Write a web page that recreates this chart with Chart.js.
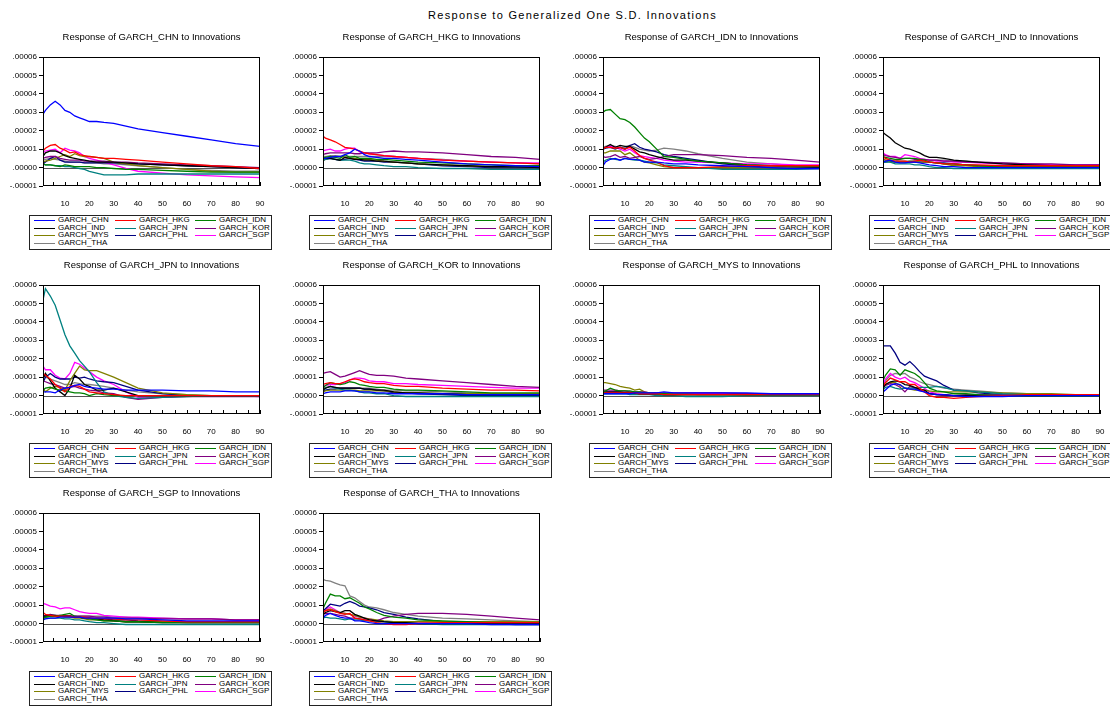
<!DOCTYPE html>
<html>
<head>
<meta charset="utf-8">
<script src="https://cdn.jsdelivr.net/npm/chart.js@4.4.1/dist/chart.umd.min.js"></script>
<style>
  html, body { margin: 0; padding: 0; background: #fff; }
  body { width: 1110px; height: 706px; position: relative; overflow: hidden;
         font-family: "Liberation Sans", Arial, sans-serif; }
  #mainTitle { position: absolute; left: 428px; top: 9px; font-size: 11px;
               letter-spacing: 1.3px; color: #000; white-space: nowrap; }
  .panel { position: absolute; }
  .legend { position: absolute; width: 243px; height: 35px; border: 1px solid #222;
            background: #fff; box-sizing: border-box; }
  .li { position: absolute; height: 8px; white-space: nowrap; }
  .li .sw { position: absolute; left: 0; top: 4px; width: 21px; height: 1px; }
  .li .tx { position: absolute; left: 24px; top: -1px; font-size: 8px; line-height: 9px; color: #000; }
</style>
</head>
<body>
<div id="mainTitle">Response to Generalized One S.D. Innovations</div>
<div id="root"></div>
<script>
// Forecast horizon (periods) at which responses are listed
const periods = [1, 2, 4, 6, 8, 10, 12, 14, 16, 18, 20, 23, 26, 30, 35, 40, 50, 60, 70, 80, 90];

// Shocked variables, in legend order
const shocks = ['GARCH_CHN', 'GARCH_HKG', 'GARCH_IDN', 'GARCH_IND', 'GARCH_JPN',
                'GARCH_KOR', 'GARCH_MYS', 'GARCH_PHL', 'GARCH_SGP', 'GARCH_THA'];

// Responding variables, one small multiple each
const responders = ['GARCH_CHN', 'GARCH_HKG', 'GARCH_IDN', 'GARCH_IND', 'GARCH_JPN',
                    'GARCH_KOR', 'GARCH_MYS', 'GARCH_PHL', 'GARCH_SGP', 'GARCH_THA'];

// Responses are listed in millionths (1 = .000001)
const VALUE_UNIT = 1e-6;

// Rows follow the order of `shocks`
const respCHN = [
  [29, 31, 34, 36, 34, 31, 30, 28, 27, 26, 25, 25, 24.5, 24, 22.5, 21, 19, 17, 15, 13, 11.5],
  [9, 10.5, 12, 12.5, 10.5, 9.5, 8, 8.5, 7, 6.5, 6, 5.5, 5, 5, 4.5, 4, 3, 2, 1, 0.5, -0.5],
  [2, 1.5, 1.5, 1, 0.5, 1.5, 1, 0.5, 0.5, 0.5, 0.5, 0, 0, -0.5, -1, -1, -1.5, -2, -2.5, -2.5, -2.5],
  [6, 8, 9, 9, 8, 6.5, 5.5, 5, 4.5, 4, 3.5, 3, 3, 3, 2.5, 2, 1.5, 1, 0.5, 0, -0.5],
  [2, 1.5, 1.5, 1, 1, 0.5, 0.5, 0, -0.5, -1, -2, -3, -4, -4, -4, -3.5, -3.5, -3.5, -3.5, -3.5, -3.5],
  [5, 5.5, 6, 6, 5, 4.5, 4, 4, 4, 3.5, 3.5, 3.5, 3.5, 3, 3, 2.5, 2, 1.5, 1, 0.5, 0],
  [3, 3.5, 4, 5, 6, 7, 6, 7.5, 6.5, 6, 6, 5.5, 5, 3, 2, 1, 0, -1, -2, -2.5, -2.5],
  [2, 3, 5, 6, 4, 3, 3, 3, 3, 2.5, 2.5, 2.5, 2.5, 2.5, 2, 2, 1.5, 1, 0.5, 0, -0.5],
  [8, 9, 9.5, 10, 8, 10.5, 9.5, 9, 8, 6, 5, 4, 3, 1.5, -0.5, -2, -3, -4, -4.5, -5, -5.5],
  [4, 4.5, 5, 4.5, 4, 3.5, 3, 3, 3, 2.5, 2.5, 2.5, 2, 2, 1.5, 1, 0, -1, -1.5, -2, -2]
];
const respHKG = [
  [5, 5, 5.5, 6, 6, 7, 8, 10, 9, 7, 6, 5.5, 5, 5, 4.5, 4, 3, 2, 1.5, 1, 0.5],
  [17, 16, 15, 14, 12.5, 11, 10.5, 10, 9, 8, 7.5, 7, 6.5, 6, 5.5, 5, 4, 3.5, 3, 2.5, 2],
  [5, 5.5, 6, 5.5, 5, 7, 5.5, 6, 5, 5, 5, 4.5, 4.5, 4, 3.5, 3, 2.5, 2, 1.5, 1, 1],
  [5, 5, 5, 4.5, 4, 5.5, 5, 4.5, 4.5, 4, 4, 3.5, 3.5, 3, 2.5, 2, 1.5, 1, 0.5, 0.5, 0],
  [4, 4.5, 5, 4.5, 4, 4, 4, 3.5, 2.5, 2, 2, 1.5, 1, 0.5, 0.5, 0, -0.5, -0.5, -1, -1, -1],
  [7, 7.5, 8, 8, 8, 8, 8, 7.5, 7.5, 8, 8, 8, 8.5, 9, 8.5, 8.5, 8, 7, 6, 5.5, 4.5],
  [4, 4.5, 5.5, 6, 6, 5.5, 5, 5, 4.5, 4.5, 4.5, 4, 3.5, 3, 2.5, 2, 1.5, 1, 0.5, 0.5, 0.5],
  [4, 4.5, 5, 4.5, 4, 4.5, 5, 4.5, 4, 3.5, 3.5, 3.5, 3, 3, 2.5, 2, 1, 0.5, 0, 0, 0],
  [9, 9.5, 10, 9, 9, 10, 10.5, 10.5, 8.5, 8, 7.5, 7, 6.5, 6, 5.5, 5, 4, 3.5, 3, 2.5, 2.5],
  [6, 6, 6.5, 6.5, 6, 6, 6, 6, 6, 6, 6, 6, 6, 6, 5.5, 5, 4.5, 3.5, 3, 2.5, 2]
];
const respIDN = [
  [1, 3, 4.5, 5, 4, 5, 4.5, 4.5, 4, 3, 3, 3, 2.5, 2, 2, 1.5, 1, 0.5, 0, -0.5, -0.5],
  [10, 11, 11, 10.5, 11, 10, 11, 9, 6.5, 5, 4, 3, 1, 0, 0, 0, 0.5, 1, 1, 1, 1],
  [30, 31, 31.5, 29, 26.5, 26, 24.5, 22, 19, 16, 14, 10, 6, 5.5, 4.5, 3.5, 2.5, 1.5, 1, 0.5, 0.5],
  [10, 11, 12.5, 11, 12, 11.5, 11.5, 10, 8.5, 8, 7, 6, 5, 4, 4, 3.5, 2.5, 1.5, 1, 0.5, 0],
  [3, 4, 5, 4.5, 4, 5, 4.5, 4, 4, 3.5, 3, 2.5, 1.5, 1, 0.5, 0, -1, -1, -1, -1, -0.5],
  [6, 5.5, 6, 7, 5.5, 6, 5, 5.5, 6, 5, 4.5, 5, 6, 7, 7, 7, 6.5, 5.5, 5, 4, 3],
  [8, 8, 9, 9, 9, 7, 8, 6, 4, 3, 2.5, 1.5, 0.5, 0, 0, 0, 0, 0, 0, 0, 0],
  [10, 10.5, 11, 10, 11, 10, 12, 13, 11, 10, 9.5, 8.5, 7, 6, 5, 4, 2, 1, 0, -0.5, -0.5],
  [10, 11, 11.5, 11, 10, 9, 10, 8, 6.5, 6, 5.5, 5, 4, 3.5, 3, 3, 2.5, 2, 2, 1.5, 1.5],
  [11, 11.5, 12, 11.5, 11, 11, 12, 11, 10, 9.5, 9, 9.5, 10.5, 10, 9, 7.5, 5, 3, 2, 1, 0.5]
];
const respIND = [
  [3, 3.5, 4, 3, 2.5, 2.5, 3, 3, 2.5, 2, 1.5, 1, 0.5, 0.5, 0, 0, 0, 0, 0, 0, 0],
  [6, 5, 4, 3.5, 3.5, 3.5, 3, 3.5, 4, 3.5, 3, 2.5, 2, 2, 1.5, 1.5, 1, 1, 1, 1, 1],
  [6, 5.5, 5, 4.5, 4.5, 5, 5, 5, 4.5, 4, 3, 2.5, 2, 2, 1.5, 1, 0.5, 0.5, 0.5, 0.5, 0.5],
  [19, 18, 16, 13.5, 12, 10.5, 10, 9, 8, 6.5, 5.5, 5.5, 5, 4, 3.5, 3, 2, 1.5, 1, 1, 0.5],
  [3, 3, 3, 2, 2, 2, 2, 1.5, 1.5, 1, 0.5, 0, 0, -0.5, -0.5, -0.5, -0.5, -0.5, -0.5, -0.5, -0.5],
  [7, 6.5, 6, 5.5, 5, 5, 5, 4.5, 4.5, 4.5, 4, 4, 3.5, 3.5, 3, 3, 2.5, 2, 2, 1.5, 1.5],
  [5, 4, 3, 3, 3, 3, 3.5, 3.5, 3, 3, 3, 2.5, 2, 1, 1, 0.5, 0, 0, 0, 0, 0],
  [3, 3, 3.5, 3, 3, 3, 3, 3, 3, 3, 3, 2.5, 2.5, 2, 1.5, 1, 0.5, 0, 0, 0, 0],
  [8, 7, 6, 6, 5, 7, 6.5, 6, 5, 4.5, 4, 3.5, 3.5, 3, 3, 2.5, 2, 2, 1.5, 1.5, 1.5],
  [4, 4, 4, 4, 3.5, 3.5, 3.5, 3.5, 3.5, 4, 4, 4, 4, 3.5, 3.5, 3, 2.5, 2, 1.5, 1.5, 1.5]
];
const respJPN = [
  [2, 2, 2, 1.5, 3, 4, 4.5, 5.5, 6, 5, 4.5, 4, 3.5, 3.5, 3, 3, 3, 2.5, 2.5, 2, 2],
  [12, 11, 9, 6, 4, 2, 5, 5.5, 5, 3.5, 2, 1.5, 1, 0.5, 0, 0, 0, 0, 0, 0, 0],
  [3, 4, 4.5, 3.5, 3, 2.5, 2, 1.5, 1.5, 1, 0, 1, 0.5, 0, 0, 0, 0, 0, 0, 0, 0],
  [9, 12, 8, 4, 2, 0, 4, 11, 9, 6, 5, 3, 3, 4, 2, 0, 0, 0, 0, 0, 0],
  [52, 58, 54, 49, 41, 33, 27, 23, 19, 16, 13, 7, 2, 0, -1, -1.5, -1, -0.5, 0, 0, 0],
  [8, 7.5, 6.5, 6, 5, 4, 4.5, 5, 4, 3.5, 3, 2.5, 1.5, 1, -1, -2, -1, -0.5, -0.5, -0.5, -0.5],
  [4, 2, 4, 5, 4.5, 3, 8, 12, 16, 14, 13.5, 13.5, 12, 10, 7, 4, 1.5, 0.5, 0, 0, 0],
  [7, 10, 12, 10, 9, 9, 9, 10, 9.5, 10, 9, 8, 7.5, 7, 5, 3, 1, 0, 0, 0, 0],
  [16, 14, 14, 11, 9.5, 9, 12, 18, 17, 15, 13, 10, 8, 6, 2, -1, -1, 0, 0, 0, -0.5],
  [11, 10, 9, 8, 7, 6, 6, 7, 6.5, 6, 6, 5.5, 5, 4, 3, 2, 1, 0.5, 0, 0, 0]
];
const respKOR = [
  [1, 1.5, 2, 2, 2, 2.5, 2.5, 2.5, 2, 2, 2, 1.5, 1.5, 1, 1, 1, 1, 0.5, 0.5, 0.5, 0.5],
  [6, 6.5, 7, 6.5, 6.5, 7.5, 8.5, 9, 8.5, 7.5, 7, 6.5, 6.5, 5.5, 5, 5, 4, 3.5, 3, 3, 2.5],
  [4, 5.5, 7, 6.5, 6, 6.5, 7.5, 7, 6, 5.5, 5, 4.5, 4.5, 3.5, 3, 3, 2.5, 2, 1.5, 1.5, 1.5],
  [3, 4, 5, 4.5, 4, 4, 4, 4, 4, 3.5, 3.5, 3, 3, 2, 1.5, 1.5, 1, 0.5, 0.5, 0.5, 0.5],
  [3, 4, 5, 4, 3.5, 3, 3, 2.5, 2, 1.5, 1.5, 1, 1, 0, -0.5, -0.5, -0.5, -0.5, -0.5, -0.5, -0.5],
  [12, 12.5, 13, 11.5, 10, 10.5, 11.5, 12.5, 13.5, 12.5, 11.5, 11, 11, 10.5, 9.5, 9, 8, 7, 6, 5, 4.5],
  [2, 2.5, 3, 3, 3, 3, 3, 3, 2.5, 2.5, 2.5, 2.5, 2.5, 2, 1.5, 1.5, 1, 1, 1, 1, 1],
  [2, 3, 3.5, 3.5, 4, 4, 4, 4, 4, 3.5, 3.5, 3, 2.5, 1.5, 1.5, 1, 0.5, 0, 0, 0, 0],
  [5, 5.5, 6, 6, 6.5, 7, 8.5, 9.5, 9.5, 9, 8, 7.5, 7.5, 6.5, 6.5, 6, 5.5, 5, 4.5, 4, 4],
  [4, 4.5, 5, 4.5, 4, 4, 4, 4, 4, 4, 4, 3.5, 3, 3, 2.5, 2.5, 2, 1.5, 1, 1, 1]
];
const respMYS = [
  [1, 1, 1, 1, 1, 1, 1, 1.5, 1.5, 1.5, 1.5, 1.5, 2, 1.5, 1.5, 1.5, 1.5, 1.5, 1, 1, 1],
  [1.5, 1.5, 1.5, 1.5, 1.5, 1.5, 1.5, 1.5, 1, 1, 1, 1, 0.5, 0.5, 0.5, 0.5, 0.5, 0.5, 0.5, 0.5, 0.5],
  [2, 2.5, 4, 3, 2.5, 2.5, 2.5, 2, 2, 1.5, 1.5, 1, 1, 0.5, 0.5, 0.5, 0.5, 0.5, 0.5, 0.5, 0.5],
  [2, 2, 2, 2, 2, 1.5, 1.5, 1.5, 1, 1, 1, 1, 0.5, 0.5, 0.5, 0.5, 0.5, 0.5, 0.5, 0.5, 0.5],
  [1, 1, 1, 1, 1, 1, 0.5, 0.5, 0.5, 0.5, 0.5, 0, 0, 0, -0.5, -0.5, -0.5, 0, 0, 0, 0],
  [3, 3, 3, 3, 2.5, 2.5, 2, 2, 2, 2, 1.5, 1.5, 1.5, 1.5, 1.5, 1.5, 1.5, 1, 1, 1, 1],
  [7, 7, 6.5, 6, 5, 4.5, 4, 3, 3.5, 2, 1.5, 1.5, 1, 1, 1, 0.5, 0.5, 0.5, 0.5, 0.5, 0.5],
  [1.5, 1.5, 1.5, 1.5, 1.5, 1.5, 1, 1, 1, 1, 1, 1, 1, 0.5, 0.5, 0.5, 0.5, 0.5, 0.5, 0.5, 0.5],
  [2, 2, 2, 2, 2, 2, 2, 1.5, 1.5, 1.5, 1.5, 1.5, 1, 1, 1, 1, 1, 1, 1, 1, 1],
  [1.5, 1.5, 1.5, 1.5, 1.5, 1.5, 1.5, 1.5, 1.5, 1, 1, 1, 1, 1, 1, 1, 1, 1, 0.5, 0.5, 0.5]
];
const respPHL = [
  [2, 3, 5.5, 6.5, 6, 4, 3.5, 3.5, 2.5, 2, 1, 0.5, 0.5, 0, -0.5, -0.5, -0.5, 0, 0, 0, 0],
  [5, 7, 9.5, 8.5, 7.5, 7.5, 6, 6, 4, 2, 0, -1, -1, -1.5, -1, -0.5, 0, 0.5, 0.5, 0.5, 0.5],
  [8, 11, 14.5, 14, 11, 14, 13, 12, 10, 7, 4, 2.5, 2, 1, 1, 0.5, 0, 0, 0, 0, 0],
  [4, 6, 7.5, 8, 7.5, 6, 5.5, 4.5, 3.5, 3, 1, 0.5, 0.5, 0, 0, 0, 0, 0, 0, 0, 0],
  [3, 4.5, 5, 4, 3.5, 4, 4, 4, 4.5, 4.5, 4.5, 5, 4.5, 3, 2.5, 2, 1, 0.5, 0, 0, 0],
  [4, 5.5, 6.5, 6, 4.5, 2, 5, 4, 3, 2, 1, 0.5, 0, 0, 0.5, 0.5, 0.5, 0.5, 0.5, 0.5, 0.5],
  [5, 6, 7, 7, 5.5, 4, 3.5, 3, 3, 3, 2.5, 2, 2, 2, 2, 2, 1.5, 1, 1, 0.5, 0.5],
  [27, 27, 27, 23, 18, 16.5, 18.5, 16, 13, 10.5, 9.5, 8, 5.5, 3, 2.5, 1.5, 0.5, 0, 0, 0, 0],
  [6, 9, 12, 10, 9, 10, 8, 7, 5.5, 4, 2, 1, 0.5, 0, 0, 0, 0.5, 0.5, 0.5, 0.5, 0.5],
  [5, 8, 11, 12, 11.5, 12, 10, 9, 7.5, 6.5, 6, 5, 4, 3.5, 3, 2.5, 1.5, 1, 0.5, 0.5, 0.5]
];
const respSGP = [
  [2, 2.5, 3, 3, 3.5, 3.5, 3.5, 3.5, 3.5, 3, 3, 3, 3, 3, 2.5, 2.5, 2, 1.5, 1.5, 1.5, 1.5],
  [6, 5, 4.5, 4, 4, 4, 4, 3.5, 3.5, 3.5, 3, 3, 2.5, 2.5, 2, 2, 1.5, 1, 1, 1, 1],
  [3, 3.5, 4, 4, 4.5, 5, 5.5, 4, 3.5, 3, 2.5, 2, 1.5, 1.5, 1, 1, 0.5, 0.5, 0.5, 0.5, 0.5],
  [4, 4, 4.5, 4.5, 4, 4, 4, 3.5, 3.5, 3, 3, 2.5, 2, 1.5, 1, 1, 0.5, 0.5, 0.5, 0.5, 0.5],
  [3, 3, 3, 3, 3, 2.5, 2.5, 2, 2, 1.5, 1, 0.5, 0.5, 0, -0.5, -0.5, -0.5, -0.5, -0.5, -0.5, -0.5],
  [4, 4.5, 5, 4.5, 4.5, 4, 4, 4, 4, 4, 4, 3.5, 3.5, 3, 3, 3, 2.5, 2.5, 2.5, 2, 2],
  [3, 3.5, 4, 4, 4, 3.5, 3.5, 3, 3, 2.5, 2, 2, 1.5, 1.5, 1, 1, 1, 1, 1, 1, 1],
  [3, 3.5, 4, 4, 4, 4, 4, 3.5, 3.5, 3, 3, 2.5, 2.5, 2, 2, 1.5, 1, 0.5, 0.5, 0.5, 0.5],
  [11, 10.5, 9.5, 9, 8, 8.5, 8.5, 7.5, 6.5, 6, 5.5, 5.5, 4.5, 4, 3.5, 3.5, 3, 2.5, 2.5, 2, 2],
  [4, 4, 4, 4, 4, 4, 4, 4, 4, 4, 4, 4, 4, 3.5, 3.5, 3, 3, 2.5, 2.5, 2, 2]
];
const respTHA = [
  [3, 4.5, 5.5, 4.5, 3.5, 3, 3, 1.5, 1.5, 1, 0.5, 0, 0, 0, 0, 0, 0, 0, -0.5, -0.5, -0.5],
  [6, 7, 7.5, 6.5, 5.5, 5, 5.5, 3, 2.5, 2, 1.5, 0.5, 0, -0.5, -0.5, 0, 0.5, 0.5, 0.5, 0.5, 0.5],
  [8, 11, 16, 15, 15, 13.5, 14, 12.5, 11, 9, 8, 6, 4.5, 3.5, 3, 2, 1.5, 1, 0.5, 0.5, 0.5],
  [5, 6, 7, 6.5, 6, 7, 7, 5, 4, 3, 2, 1.5, 1, 0.5, 0.5, 0, 0, 0, 0, 0, 0],
  [3, 3.5, 3, 3, 2.5, 2, 2.5, 2, 2, 1.5, 1.5, 1, 1, 0.5, 0.5, 0, -0.5, -0.5, -0.5, -0.5, -0.5],
  [5, 5.5, 5.5, 5, 4.5, 4, 3, 3, 2.5, 2, 2, 1.5, 3, 4, 5, 5.5, 5.5, 5, 4, 3, 2],
  [6, 7, 8, 7, 6, 5.5, 5, 4.5, 3.5, 3, 2.5, 2, 1.5, 1, 1, 1, 1, 1, 1, 1, 1],
  [7, 8, 10.5, 10, 9.5, 11, 12, 11, 9.5, 9, 8.5, 7.5, 6, 5, 3.5, 2.5, 1, 0.5, 0, -0.5, -0.5],
  [6, 7.5, 9, 7.5, 6, 5.5, 5, 4, 3.5, 3, 2.5, 1.5, 1, 0.5, 0.5, 0.5, 1, 1, 1, 1, 1],
  [24, 23.5, 23, 22, 21, 20.5, 15, 14, 12, 10, 9, 8.5, 7.5, 6, 5, 4, 3, 2.5, 2, 1.5, 1]
];

const responseTables = [respCHN, respHKG, respIDN, respIND, respJPN,
                        respKOR, respMYS, respPHL, respSGP, respTHA];

// Axis ticks
const yTickValues = [-0.00001, 0, 0.00001, 0.00002, 0.00003, 0.00004, 0.00005, 0.00006];
const yTickLabels = ['-.00001', '.00000', '.00001', '.00002', '.00003', '.00004', '.00005', '.00006'];
const xTickValues = [5, 10, 15, 20, 25, 30, 35, 40, 45, 50, 55, 60, 65, 70, 75, 80, 85, 90];
const xTickLabels = ['', '10', '', '20', '', '30', '', '40', '', '50', '', '60', '', '70', '', '80', '', '90'];

// ---- styling ----
const lineColors = ['#0000ff', '#ff0000', '#008000', '#000000', '#008080',
                    '#800080', '#808000', '#000080', '#ff00ff', '#808080'];
const FONT = '"Liberation Sans", Arial, sans-serif';
const PLOT_W = 217, PLOT_H = 129;
const COL_LEFT = [43, 323, 603, 883];
const ROW_TOP = [57, 285, 513];
const AXIS_W = 43, TITLE_H = 30, XAXIS_H = 22, RIGHT_PAD = 10;

// Frame, zero line and inward x ticks
const framePlugin = {
  id: 'frame',
  beforeDatasetsDraw(chart) {
    const { ctx, chartArea: a, scales: { y } } = chart;
    const y0 = Math.round(y.getPixelForValue(0)) + 0.5;
    ctx.save();
    ctx.strokeStyle = '#555';
    ctx.lineWidth = 1;
    ctx.beginPath();
    ctx.moveTo(a.left, y0);
    ctx.lineTo(a.right, y0);
    ctx.stroke();
    ctx.restore();
  },
  afterDatasetsDraw(chart) {
    const { ctx, chartArea: a, scales: { x } } = chart;
    ctx.save();
    ctx.strokeStyle = '#000';
    ctx.lineWidth = 1;
    ctx.strokeRect(a.left + 0.5, a.top + 0.5, a.right - a.left - 1, a.bottom - a.top - 1);
    ctx.beginPath();
    xTickValues.forEach(v => {
      const px = Math.round(x.getPixelForValue(v)) + 0.5;
      ctx.moveTo(px, a.bottom);
      ctx.lineTo(px, a.bottom - 4);
    });
    ctx.stroke();
    ctx.restore();
  }
};

const root = document.getElementById('root');

responders.forEach((resp, k) => {
  const col = k % 4, row = Math.floor(k / 4);
  const plotLeft = COL_LEFT[col], plotTop = ROW_TOP[row];

  const wrap = document.createElement('div');
  wrap.className = 'panel';
  wrap.style.left = (plotLeft - AXIS_W) + 'px';
  wrap.style.top = (plotTop - TITLE_H) + 'px';
  const canvas = document.createElement('canvas');
  const cw = AXIS_W + PLOT_W + RIGHT_PAD, ch = TITLE_H + PLOT_H + XAXIS_H;
  canvas.width = cw; canvas.height = ch;
  canvas.style.width = cw + 'px'; canvas.style.height = ch + 'px';
  wrap.appendChild(canvas);
  root.appendChild(wrap);

  const table = responseTables[k];
  const datasets = shocks.map((name, s) => ({
    label: name,
    data: periods.map((p, i) => ({ x: p, y: table[s][i] * VALUE_UNIT })),
    borderColor: lineColors[s],
    backgroundColor: lineColors[s],
    borderWidth: 1.3,
    pointRadius: 0,
    tension: 0,
    fill: false
  }));

  const chart = new Chart(canvas, {
    type: 'line',
    data: { datasets },
    plugins: [framePlugin],
    options: {
      responsive: false,
      animation: false,
      devicePixelRatio: 1,
      events: [],
      layout: { padding: { top: 0, left: 0, right: RIGHT_PAD, bottom: 0 } },
      plugins: {
        legend: { display: false },
        tooltip: { enabled: false },
        title: {
          display: true,
          text: 'Response of ' + resp + ' to Innovations',
          fullSize: false,
          color: '#000',
          font: { family: FONT, size: 9.5, weight: 'normal', lineHeight: 1.2 },
          padding: { top: 4.6, bottom: 14 }
        }
      },
      scales: {
        x: {
          type: 'linear',
          min: 1, max: 90,
          afterBuildTicks: s => { s.ticks = xTickValues.map(v => ({ value: v })); },
          afterFit: s => { s.height = XAXIS_H; },
          border: { display: false },
          grid: { display: false },
          ticks: {
            autoSkip: false, maxRotation: 0, padding: 5,
            color: '#000', font: { family: FONT, size: 8 },
            callback: (v, i) => xTickLabels[i]
          }
        },
        y: {
          type: 'linear',
          min: -0.00001, max: 0.00006,
          afterBuildTicks: s => { s.ticks = yTickValues.map(v => ({ value: v })); },
          afterFit: s => { s.width = AXIS_W; },
          border: { display: false },
          grid: { drawOnChartArea: false, drawTicks: true, tickLength: 4, color: '#000' },
          ticks: {
            padding: 2, color: '#000', font: { family: FONT, size: 8 },
            callback: (v, i) => yTickLabels[i]
          }
        }
      }
    }
  });

  // Legend box built from the chart's own datasets
  const lg = document.createElement('div');
  lg.className = 'legend';
  lg.style.left = (plotLeft - 14) + 'px';
  lg.style.top = (plotTop + PLOT_H + 29) + 'px';
  const colX = [4, 85, 165];
  const rowY = [0, 8, 15, 23];
  chart.data.datasets.forEach((ds, i) => {
    const it = document.createElement('div');
    it.className = 'li';
    it.style.left = colX[i % 3] + 'px';
    it.style.top = rowY[Math.floor(i / 3)] + 'px';
    const sw = document.createElement('span');
    sw.className = 'sw';
    sw.style.background = ds.borderColor;
    const tx = document.createElement('span');
    tx.className = 'tx';
    tx.textContent = ds.label;
    it.appendChild(sw); it.appendChild(tx);
    lg.appendChild(it);
  });
  root.appendChild(lg);
});
</script>
</body>
</html>
